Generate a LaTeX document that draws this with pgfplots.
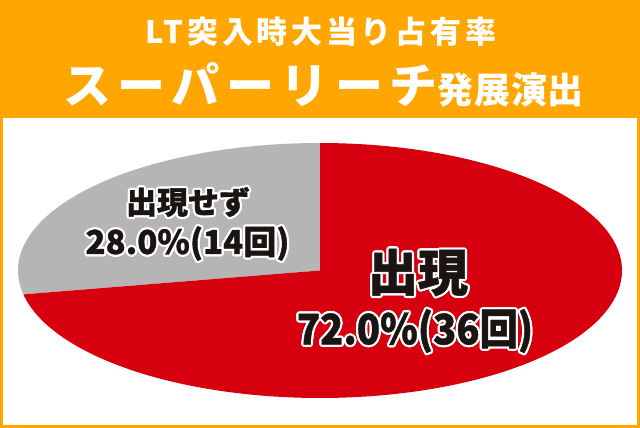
\documentclass[border=0pt]{standalone}
\usepackage{fontspec}
\usepackage{pgfplots}
\pgfplotsset{compat=1.18}
\newfontfamily\jp{Noto Sans CJK JP}
\definecolor{hdr}{RGB}{255,166,0}
\definecolor{pred}{RGB}{215,0,15}
\definecolor{pgrey}{RGB}{181,181,182}
\definecolor{ink}{RGB}{26,20,18}
% #1 x, #2 y, #3 size, #4 extra font features, #5 text
\newcommand\outlined[5]{%
  \foreach \a in {0,30,...,330}{\node[text=white,inner sep=0pt,shift={(\a:2.2pt)}] at (#1pt,#2pt) {\jp\bfseries\fontsize{#3}{#3}\selectfont\addfontfeature{#4}#5};}%
  \node[text=ink,inner sep=0pt] at (#1pt,#2pt) {\jp\bfseries\fontsize{#3}{#3}\selectfont\addfontfeature{#4}#5};}
\def\shareA{28}
\def\shareB{72}
\pgfmathsetmacro\endA{90+\shareA*3.6}
\begin{document}
\begin{tikzpicture}
\fill[hdr] (0pt,0pt) rectangle (640pt,428pt);
\fill[white] (3pt,3pt) rectangle (637pt,310pt);
\begin{axis}[at={(320pt,157.5pt)}, anchor=origin, x=302pt, y=127.5pt,
  xmin=-1, xmax=1, ymin=-1, ymax=1, hide axis, clip=false]
\addplot[draw=none, fill=pgrey, domain=90:\endA, samples=90] ({cos(x)},{sin(x)}) -- (axis cs:0,0) -- cycle;
\addplot[draw=none, fill=pred, domain=\endA:450, samples=240] ({cos(x)},{sin(x)}) -- (axis cs:0,0) -- cycle;
\end{axis}
\node[text=white, inner sep=0pt] at (321pt,396pt) {\jp\bfseries\fontsize{31}{31}\selectfont\addfontfeature{LetterSpace=12}LT突入時大当り占有率};
\node[text=white, inner sep=0pt, anchor=base west] at (63pt,324pt) {\jp\bfseries\fontsize{48}{48}\selectfont\addfontfeature{LetterSpace=13.5}スーパーリーチ\fontsize{36}{36}\selectfont\addfontfeature{LetterSpace=2}発展演出};
\outlined{188}{226}{31}{FakeBold=1}{出現せず}
\outlined{187.5}{184.5}{33}{FakeBold=1}{28.0\%(14回)}
\outlined{418}{155.5}{50}{FakeBold=1}{出現}
\outlined{415}{97}{42}{FakeBold=1,FakeStretch=0.91}{72.0\%(36回)}
\end{tikzpicture}
\end{document}
